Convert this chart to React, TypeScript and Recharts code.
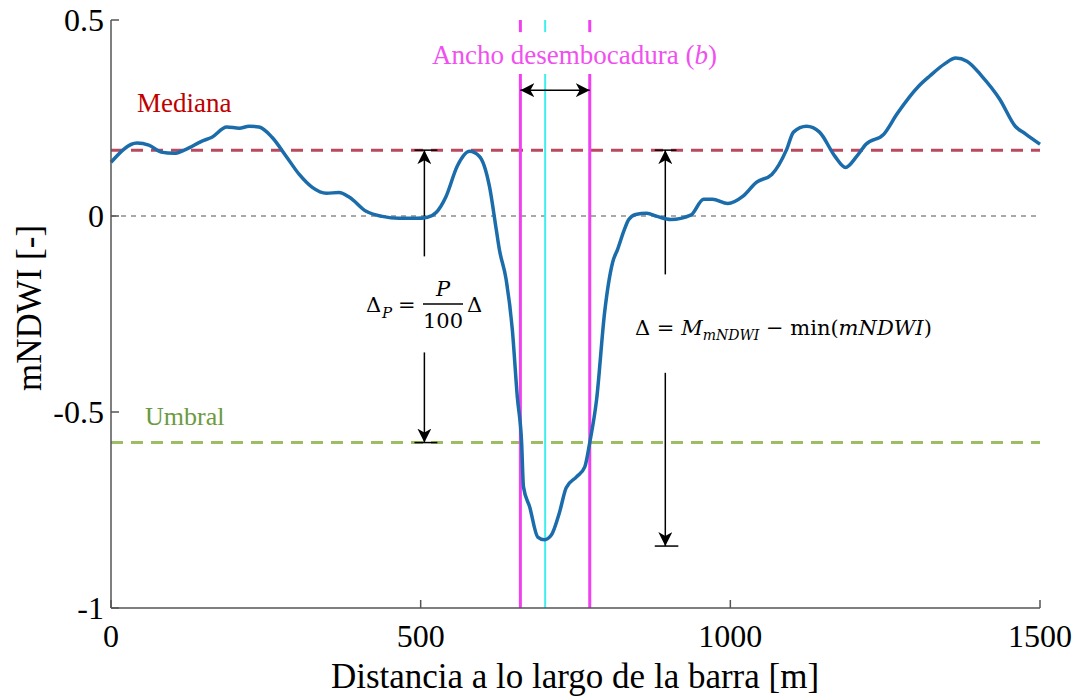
import { LineChart, Line, XAxis, YAxis, ReferenceLine } from 'recharts';

// distance along the bar [m] and mNDWI profile
const DIST = [
    0, 42, 61, 81, 102, 121, 147, 163, 187, 207, 223, 239, 260, 283, 304, 325, 348, 368, 385, 412,
    438, 465, 493, 511, 525, 541, 559, 579, 595, 611, 622, 627, 638, 648, 656, 663, 666, 676, 689, 700,
    711, 724, 735, 752, 765, 773, 784, 797, 810, 818, 829, 836, 847, 865, 882, 904, 936, 957, 971, 996,
    1020, 1042, 1067, 1091, 1102, 1123, 1144, 1169, 1186, 1204, 1219, 1248, 1269, 1304, 1322, 1346, 1364, 1382, 1406, 1435,
    1460, 1477, 1500,
];
const MNDWI = [
    0.137, 0.186, 0.181, 0.163, 0.16, 0.17, 0.191, 0.201, 0.227, 0.224, 0.229, 0.227, 0.201, 0.152, 0.106, 0.073, 0.058, 0.06, 0.048, 0.012,
    -0.001, -0.006, -0.006, -0.003, 0.009, 0.05, 0.127, 0.165, 0.152, 0.076, -0.034, -0.085, -0.162, -0.29, -0.461, -0.578, -0.691, -0.742, -0.819, -0.826,
    -0.814, -0.757, -0.693, -0.665, -0.64, -0.578, -0.469, -0.246, -0.118, -0.085, -0.034, -0.009, 0.004, 0.007, -0.001, -0.009, 0.002, 0.043, 0.043, 0.032,
    0.05, 0.086, 0.106, 0.17, 0.214, 0.229, 0.214, 0.152, 0.124, 0.152, 0.183, 0.209, 0.26, 0.331, 0.357, 0.388, 0.403, 0.395, 0.357, 0.298,
    0.229, 0.209, 0.183,
];

const X_TICKS = [0, 500, 1000, 1500];
const Y_TICKS = [-1, -0.5, 0, 0.5];

const MEDIANA = 0.168;
const UMBRAL = -0.578;
const MIN_ARROW = -0.842;
const B_LEFT = 661;
const B_RIGHT = 773;
const B_CENTER = 701;
const DP_X = 506;
const D_X = 895;

const DATA = DIST.map((x, i) => ({ x, v: MNDWI[i] }));

const serif = "'Liberation Serif'";
const math = "'DejaVu Serif'";
const tickFont = { fill: '#000', fontSize: 32, fontFamily: serif };

export default function App() {
    return (
        <div style={{ position: 'absolute', left: 0, top: 0, width: 1076, height: 698, background: '#fff', fontFamily: serif }}>
            <svg width={0} height={0} style={{ position: 'absolute' }}>
                <defs>
                    <marker id="arr" viewBox="0 0 14 14" refX={14} refY={7} markerWidth={14} markerHeight={14}
                        markerUnits="userSpaceOnUse" orient="auto-start-reverse">
                        <path d="M0,0 L14,7 L0,14 L4,7 z" fill="#000" />
                    </marker>
                </defs>
            </svg>
            <LineChart width={1076} height={698} data={DATA} margin={{ top: 20, right: 36, left: 11, bottom: 10 }}
                style={{ fontFamily: serif }}>
                <XAxis type="number" dataKey="x" domain={[0, 1500]} ticks={X_TICKS} interval={0} height={80}
                    tickSize={-8} tickMargin={24} stroke="#555" strokeWidth={1.5} tick={tickFont} />
                <XAxis xAxisId="top" orientation="top" type="number" domain={[0, 1500]} ticks={X_TICKS} interval={0}
                    height={0} tickSize={-8} stroke="#555" strokeWidth={1.5} tickFormatter={() => ''} />
                <YAxis type="number" domain={[-1, 0.5]} ticks={Y_TICKS} interval={0} width={100}
                    tickSize={-8} tickMargin={15} stroke="#555" strokeWidth={1.5} tick={tickFont} />
                <YAxis yAxisId="right" orientation="right" type="number" domain={[-1, 0.5]} ticks={Y_TICKS} interval={0}
                    width={0} tickSize={-8} stroke="#555" strokeWidth={1.5} tickFormatter={() => ''} />

                <ReferenceLine y={0} stroke="#555" strokeWidth={1.2} strokeDasharray="5 5" />
                <ReferenceLine y={MEDIANA} stroke="#b94a5e" strokeWidth={3} strokeDasharray="12 8" />
                <ReferenceLine y={UMBRAL} stroke="#9dbd62" strokeWidth={3} strokeDasharray="12 8" />

                {/* mouth width lines, broken where the label sits */}
                <ReferenceLine segment={[{ x: B_LEFT, y: 0.5 }, { x: B_LEFT, y: 0.469 }]} stroke="#f040f0" strokeWidth={3} />
                <ReferenceLine segment={[{ x: B_LEFT, y: 0.362 }, { x: B_LEFT, y: -1 }]} stroke="#f040f0" strokeWidth={3} />
                <ReferenceLine segment={[{ x: B_RIGHT, y: 0.5 }, { x: B_RIGHT, y: 0.469 }]} stroke="#f040f0" strokeWidth={3} />
                <ReferenceLine segment={[{ x: B_RIGHT, y: 0.362 }, { x: B_RIGHT, y: -1 }]} stroke="#f040f0" strokeWidth={3} />
                <ReferenceLine segment={[{ x: B_CENTER, y: 0.5 }, { x: B_CENTER, y: 0.469 }]} stroke="#40eeee" strokeWidth={2} />
                <ReferenceLine segment={[{ x: B_CENTER, y: 0.362 }, { x: B_CENTER, y: -1 }]} stroke="#40eeee" strokeWidth={2} />
                <ReferenceLine segment={[{ x: B_LEFT, y: 0.321 }, { x: B_RIGHT, y: 0.321 }]} stroke="#000" strokeWidth={1.5}
                    markerStart="url(#arr)" markerEnd="url(#arr)" />

                {/* Delta_P arrow */}
                <ReferenceLine segment={[{ x: 490, y: MEDIANA }, { x: 527, y: MEDIANA }]} stroke="#000" strokeWidth={1.5} />
                <ReferenceLine segment={[{ x: DP_X, y: -0.103 }, { x: DP_X, y: MEDIANA }]} stroke="#000" strokeWidth={1.5} markerEnd="url(#arr)" />
                <ReferenceLine segment={[{ x: DP_X, y: -0.348 }, { x: DP_X, y: UMBRAL }]} stroke="#000" strokeWidth={1.5} markerEnd="url(#arr)" />
                <ReferenceLine segment={[{ x: 490, y: UMBRAL }, { x: 527, y: UMBRAL }]} stroke="#000" strokeWidth={1.5} />

                {/* Delta arrow */}
                <ReferenceLine segment={[{ x: 878, y: MEDIANA }, { x: 913, y: MEDIANA }]} stroke="#000" strokeWidth={1.5} />
                <ReferenceLine segment={[{ x: D_X, y: -0.149 }, { x: D_X, y: MEDIANA }]} stroke="#000" strokeWidth={1.5} markerEnd="url(#arr)" />
                <ReferenceLine segment={[{ x: D_X, y: -0.4 }, { x: D_X, y: MIN_ARROW }]} stroke="#000" strokeWidth={1.5} markerEnd="url(#arr)" />
                <ReferenceLine segment={[{ x: 878, y: MIN_ARROW }, { x: 916, y: MIN_ARROW }]} stroke="#000" strokeWidth={1.5} />

                <Line type="monotone" dataKey="v" stroke="#1b6cab" strokeWidth={3.5} dot={false} isAnimationActive={false} />
            </LineChart>

            <svg width={1076} height={698} style={{ position: 'absolute', left: 0, top: 0, pointerEvents: 'none' }}>
                <text x={137} y={112} fill="#c00000" fontSize={27} fontFamily={serif}>Mediana</text>
                <text x={145} y={425} fill="#6b9a3f" fontSize={26} fontFamily={serif}>Umbral</text>
                <text x={432} y={64} fill="#f050f0" fontSize={27} fontFamily={serif}>
                    {'Ancho desembocadura ('}<tspan fontStyle="italic">b</tspan>{')'}
                </text>

                {/* Delta_P = P/100 Delta */}
                <text x={366} y={312} fontSize={21} fontFamily={math} fill="#000">Δ</text>
                <text x={382} y={318} fontSize={15} fontFamily={math} fontStyle="italic" fill="#000">P</text>
                <text x={398} y={312} fontSize={21} fontFamily={math} fill="#000">=</text>
                <text x={443} y={296} fontSize={21} fontFamily={math} fontStyle="italic" textAnchor="middle" fill="#000">P</text>
                <line x1={423} x2={463} y1={304} y2={304} stroke="#000" strokeWidth={1.5} />
                <text x={443} y={328} fontSize={21} fontFamily={math} textAnchor="middle" fill="#000">100</text>
                <text x={467} y={312} fontSize={21} fontFamily={math} fill="#000">Δ</text>

                {/* Delta = M_mNDWI - min(mNDWI) */}
                <text x={635} y={335} fontSize={21} fontFamily={math} fill="#000">
                    {'Δ = '}<tspan fontStyle="italic">M</tspan>
                    <tspan fontStyle="italic" fontSize={14} dy={5}>mNDWI</tspan>
                    <tspan dy={-5}>{' − min('}</tspan>
                    <tspan fontStyle="italic">mNDWI</tspan>{')'}
                </text>

                <text x={575} y={688} fontSize={35} fontFamily={serif} textAnchor="middle" fill="#000">
                    Distancia a lo largo de la barra [m]
                </text>
                <text transform="translate(41,308) rotate(-90)" fontSize={35} fontFamily={serif} textAnchor="middle" fill="#000">
                    mNDWI [-]
                </text>
            </svg>
        </div>
    );
}
